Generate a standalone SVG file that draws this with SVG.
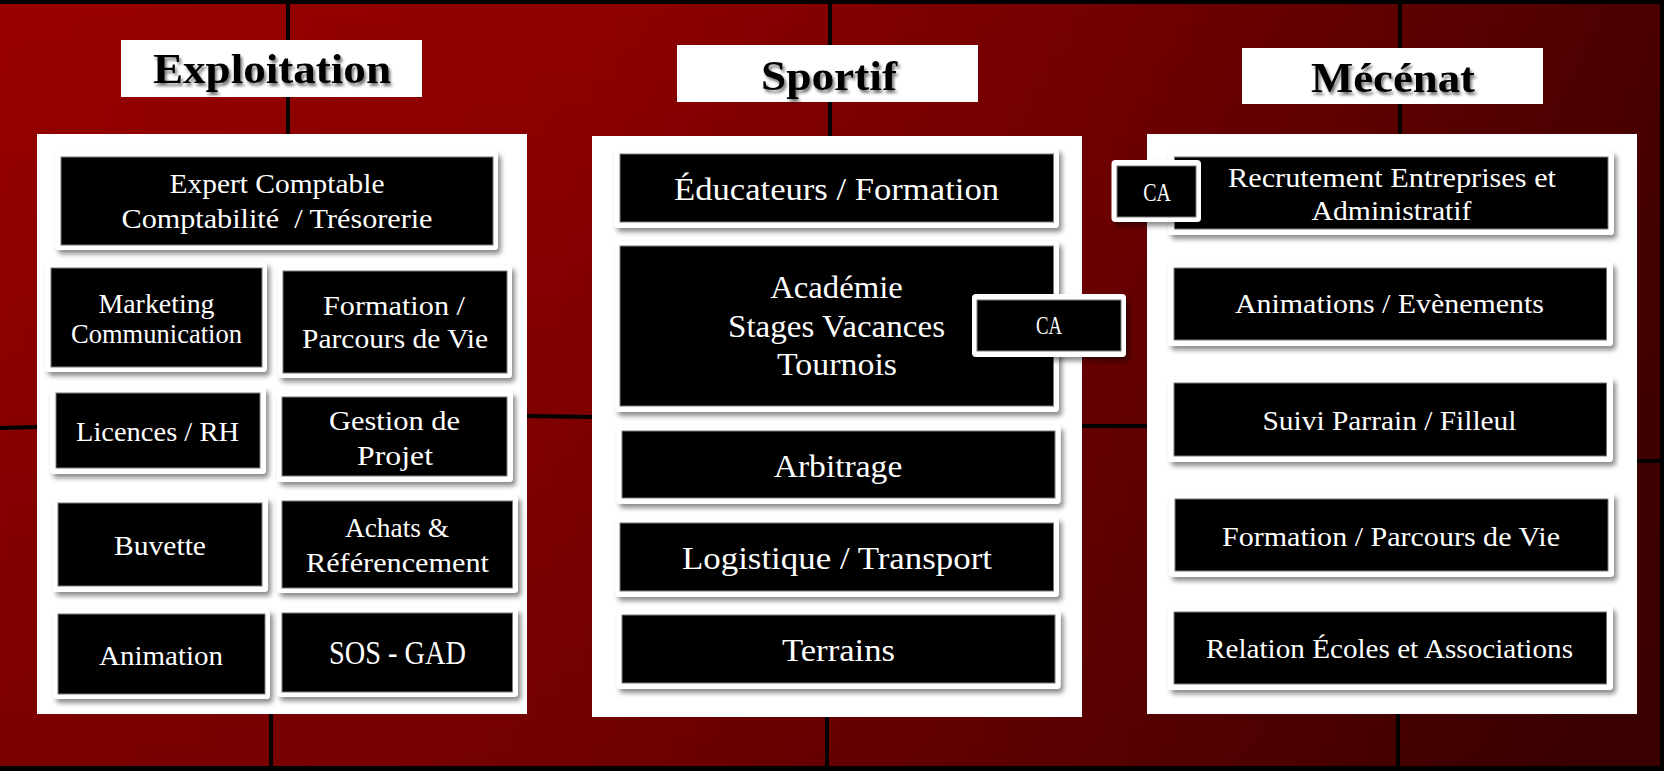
<svg xmlns="http://www.w3.org/2000/svg" width="1664" height="771" viewBox="0 0 1664 771">
<defs>
<linearGradient id="bg" x1="0" y1="0" x2="1664" y2="300" gradientUnits="userSpaceOnUse">
<stop offset="0" stop-color="#980000"/>
<stop offset="0.35" stop-color="#8e0000"/>
<stop offset="0.6" stop-color="#780000"/>
<stop offset="0.8" stop-color="#600000"/>
<stop offset="1" stop-color="#460000"/>
</linearGradient>
<linearGradient id="shade" x1="0" y1="0" x2="0" y2="1">
<stop offset="0" stop-color="#000" stop-opacity="0"/>
<stop offset="1" stop-color="#000" stop-opacity="0.18"/>
</linearGradient>
<filter id="sh" x="-10%" y="-20%" width="125%" height="150%">
<feDropShadow dx="3" dy="4" stdDeviation="2.5" flood-color="#000" flood-opacity="0.45"/>
</filter>
<filter id="tsh" x="-10%" y="-20%" width="125%" height="150%">
<feDropShadow dx="2" dy="3" stdDeviation="1.5" flood-color="#000" flood-opacity="0.55"/>
</filter>
</defs>
<style>
.panel{fill:#fff}
.tbox{fill:#fff}
.title{font-family:"Liberation Serif","DejaVu Serif",serif;font-weight:bold;font-size:43px;fill:#000;text-anchor:middle;filter:url(#tsh)}
.frame{fill:#fff;filter:url(#sh)}
.box{fill:#000;stroke:#7a7a7a;stroke-width:1}
.t{font-family:"Liberation Serif","DejaVu Serif",serif;fill:#fff;text-anchor:middle;font-size:28px}
.s{font-size:32px}
.ca{font-size:25px}
.grid{stroke:#000;stroke-width:4;fill:none}
</style>
<g id="background">
<rect width="1664" height="771" fill="url(#bg)"/>
<rect width="1664" height="771" fill="url(#shade)"/>
<g class="grid">
<line x1="288" y1="0" x2="288" y2="134"/>
<line x1="271" y1="714" x2="271" y2="768"/>
<line x1="0" y1="428" x2="37" y2="427"/>
<line x1="527" y1="416" x2="592" y2="417"/>
<line x1="830" y1="0" x2="830" y2="136"/>
<line x1="827" y1="717" x2="827" y2="768"/>
<line x1="1082" y1="426" x2="1147" y2="426"/>
<line x1="1400" y1="0" x2="1400" y2="134"/>
<line x1="1398" y1="714" x2="1398" y2="768"/>
<line x1="1637" y1="461" x2="1664" y2="461"/>
</g>
<rect x="0" y="0" width="1664" height="4" fill="#000"/>
<rect x="0" y="766" width="1664" height="5" fill="#000"/>
<rect x="1660" y="0" width="4" height="771" fill="#000"/>
</g>
<g id="connectors"/>
<g id="exploitation">
<g id="title-exploitation"><rect class="tbox" x="121" y="40" width="301" height="57"/><text class="title" x="272" y="83" textLength="238" lengthAdjust="spacingAndGlyphs">Exploitation</text></g>
<rect class="panel" x="37" y="134" width="490" height="580"/>
<g id="n-expert"><rect class="frame" x="55" y="151" width="443" height="99" rx="4"/><rect class="box" x="61" y="157" width="432" height="88"/>
<text class="t" x="277" y="193" textLength="215" lengthAdjust="spacingAndGlyphs">Expert Comptable</text>
<text class="t" x="277" y="228" textLength="311" lengthAdjust="spacingAndGlyphs" xml:space="preserve">Comptabilité  / Trésorerie</text></g>
<g id="n-marketing"><rect class="frame" x="45" y="262" width="222" height="110" rx="4"/><rect class="box" x="51" y="268" width="211" height="99"/>
<text class="t" x="156.5" y="313" textLength="116" lengthAdjust="spacingAndGlyphs">Marketing</text>
<text class="t" x="156.5" y="343" textLength="171" lengthAdjust="spacingAndGlyphs">Communication</text></g>
<g id="n-formation-expl"><rect class="frame" x="278" y="265" width="234" height="113" rx="4"/><rect class="box" x="283" y="271" width="224" height="102"/>
<text class="t" x="394" y="315" textLength="142" lengthAdjust="spacingAndGlyphs">Formation /</text>
<text class="t" x="395" y="348" textLength="186" lengthAdjust="spacingAndGlyphs">Parcours de Vie</text></g>
<g id="n-licences"><rect class="frame" x="50" y="387" width="216" height="87" rx="4"/><rect class="box" x="56" y="393" width="204" height="75"/>
<text class="t" x="157.5" y="441" textLength="163" lengthAdjust="spacingAndGlyphs">Licences / RH</text></g>
<g id="n-gestion"><rect class="frame" x="277" y="391" width="236" height="91" rx="4"/><rect class="box" x="282" y="397" width="225" height="79"/>
<text class="t" x="394.5" y="430" textLength="131" lengthAdjust="spacingAndGlyphs">Gestion de</text>
<text class="t" x="395" y="465" textLength="76" lengthAdjust="spacingAndGlyphs">Projet</text></g>
<g id="n-buvette"><rect class="frame" x="53" y="497" width="215" height="95" rx="4"/><rect class="box" x="58" y="503" width="204" height="83"/>
<text class="t" x="160" y="555" textLength="92" lengthAdjust="spacingAndGlyphs">Buvette</text></g>
<g id="n-achats"><rect class="frame" x="277" y="495" width="241" height="98" rx="4"/><rect class="box" x="282" y="501" width="230.5" height="87"/>
<text class="t" x="397" y="537" textLength="104" lengthAdjust="spacingAndGlyphs">Achats &amp;</text>
<text class="t" x="397.5" y="572" textLength="183" lengthAdjust="spacingAndGlyphs">Référencement</text></g>
<g id="n-animation"><rect class="frame" x="53" y="609" width="217" height="90" rx="4"/><rect class="box" x="58" y="614" width="207" height="80"/>
<text class="t" x="161" y="665" textLength="124" lengthAdjust="spacingAndGlyphs">Animation</text></g>
<g id="n-sos"><rect class="frame" x="277" y="608" width="241" height="89" rx="4"/><rect class="box" x="282" y="613" width="230.5" height="79"/>
<text class="t" x="397.5" y="664" style="font-size:34px" textLength="137" lengthAdjust="spacingAndGlyphs">SOS - GAD</text></g>
</g>
<g id="sportif">
<g id="title-sportif"><rect class="tbox" x="677" y="45" width="301" height="57"/><text class="title" x="829" y="90" textLength="136" lengthAdjust="spacingAndGlyphs">Sportif</text></g>
<rect class="panel" x="592" y="136" width="490" height="581"/>
<g id="n-educateurs"><rect class="frame" x="614" y="148" width="445" height="80" rx="4"/><rect class="box" x="620" y="154" width="433.5" height="68"/>
<text class="t s" x="836.5" y="200" textLength="325" lengthAdjust="spacingAndGlyphs">Éducateurs / Formation</text></g>
<g id="n-academie"><rect class="frame" x="615" y="241" width="444" height="171" rx="4"/><rect class="box" x="620" y="246" width="433.5" height="160"/>
<text class="t s" x="836.5" y="298" textLength="132.6" lengthAdjust="spacingAndGlyphs">Académie</text>
<text class="t s" x="836.5" y="337" textLength="217" lengthAdjust="spacingAndGlyphs">Stages Vacances</text>
<text class="t s" x="837" y="375" textLength="120" lengthAdjust="spacingAndGlyphs">Tournois</text></g>
<g id="n-ca-sportif"><rect class="frame" x="972" y="294" width="154" height="63" rx="4"/><rect class="box" x="977" y="300" width="144" height="51"/>
<text class="t ca" x="1049" y="334" textLength="26" lengthAdjust="spacingAndGlyphs">CA</text></g>
<g id="n-arbitrage"><rect class="frame" x="616.6" y="425" width="444" height="79" rx="4"/><rect class="box" x="622" y="431" width="433" height="67"/>
<text class="t s" x="838" y="477" textLength="128.6" lengthAdjust="spacingAndGlyphs">Arbitrage</text></g>
<g id="n-logistique"><rect class="frame" x="615" y="517" width="444" height="80" rx="4"/><rect class="box" x="620" y="523" width="433.5" height="68"/>
<text class="t s" x="837" y="569" textLength="310" lengthAdjust="spacingAndGlyphs">Logistique / Transport</text></g>
<g id="n-terrains"><rect class="frame" x="616.6" y="610" width="444" height="79" rx="4"/><rect class="box" x="622" y="615" width="433" height="68"/>
<text class="t s" x="838.5" y="661" textLength="113" lengthAdjust="spacingAndGlyphs">Terrains</text></g>
</g>
<g id="mecenat">
<g id="title-mecenat"><rect class="tbox" x="1242" y="48" width="301" height="56"/><text class="title" x="1393" y="92" textLength="164" lengthAdjust="spacingAndGlyphs">Mécénat</text></g>
<rect class="panel" x="1147" y="134" width="490" height="580"/>
<g id="n-recrutement"><rect class="frame" x="1168" y="151" width="446" height="84" rx="4"/><rect class="box" x="1174.5" y="157" width="433.5" height="72"/>
<text class="t" x="1392" y="187" textLength="328" lengthAdjust="spacingAndGlyphs">Recrutement Entreprises et</text>
<text class="t" x="1391.5" y="220" textLength="160" lengthAdjust="spacingAndGlyphs">Administratif</text></g>
<g id="n-ca-mecenat"><rect class="frame" x="1111.5" y="160" width="89.5" height="62" rx="4"/><rect class="box" x="1117" y="166" width="79" height="51"/>
<text class="t ca" x="1157" y="200.5" textLength="27.5" lengthAdjust="spacingAndGlyphs">CA</text></g>
<g id="n-animations"><rect class="frame" x="1168" y="262" width="445" height="84" rx="4"/><rect class="box" x="1174" y="268" width="432.5" height="72"/>
<text class="t" x="1389.5" y="313" textLength="309" lengthAdjust="spacingAndGlyphs">Animations / Evènements</text></g>
<g id="n-suivi"><rect class="frame" x="1168" y="377" width="445" height="85" rx="4"/><rect class="box" x="1174" y="383" width="432.5" height="73"/>
<text class="t" x="1389.5" y="430" textLength="254" lengthAdjust="spacingAndGlyphs">Suivi Parrain / Filleul</text></g>
<g id="n-formation-mec"><rect class="frame" x="1169" y="493" width="445" height="84" rx="4"/><rect class="box" x="1175" y="499" width="433" height="72"/>
<text class="t" x="1391" y="546" textLength="338" lengthAdjust="spacingAndGlyphs">Formation / Parcours de Vie</text></g>
<g id="n-relation"><rect class="frame" x="1168" y="606" width="445" height="84" rx="4"/><rect class="box" x="1174" y="612" width="432.5" height="72"/>
<text class="t" x="1389.5" y="658" textLength="367" lengthAdjust="spacingAndGlyphs">Relation Écoles et Associations</text></g>
</g>
</svg>
